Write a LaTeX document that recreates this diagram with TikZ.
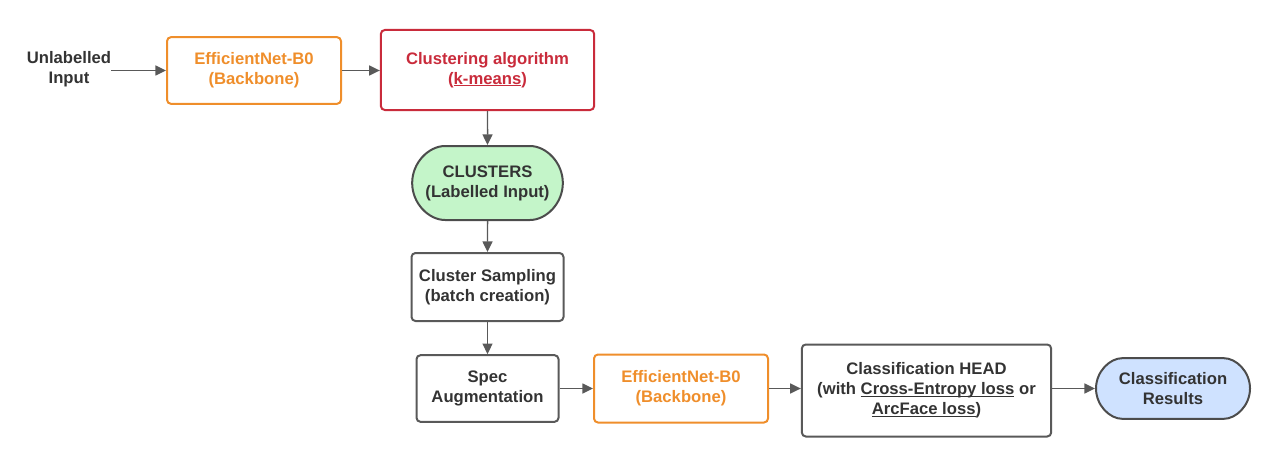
\documentclass[tikz,border=0pt]{standalone}
\usepackage{fontspec}
\setmainfont{Liberation Sans}
\usepackage{xcolor}
\usepackage{tikz}
\usetikzlibrary{arrows.meta}
\usetikzlibrary{shapes.misc}
\colorlet{dgray}{black!65}
\definecolor{borange}{HTML}{EF8E2B}
\definecolor{bred}{HTML}{C92B3B}
\definecolor{lgreen}{HTML}{C4F5C9}
\definecolor{lblue}{HTML}{CFE2FF}
\definecolor{txt}{HTML}{333333}
\newcommand\ulin[1]{\setbox0\hbox{#1}\rlap{\rule[-1.6pt]{\wd0}{0.8pt}}\box0\relax}
\tikzstyle{blk}=[draw=dgray,line width=1.5pt,rounded corners=3pt,align=center,text=txt,font=\bfseries\fontsize{12.5}{15}\selectfont,inner sep=0pt]
\tikzstyle{orbox}=[blk,draw=borange,text=borange]
\tikzstyle{rdbox}=[blk,draw=bred,text=bred]
\tikzstyle{pill}=[blk,rounded rectangle,draw=black!70]
\tikzstyle{flow}=[line width=1.1pt,draw=dgray,-{Triangle[length=8pt,width=7.5pt]}]
\begin{document}
\begin{tikzpicture}[x=0.75pt,y=-0.75pt]
  \useasboundingbox (0,0) rectangle (1280,467);
  \node[align=center,text=txt,font=\bfseries\fontsize{12.5}{15}\selectfont,inner sep=0pt] (inp) at (69,69) {Unlabelled\\Input};
  \node[orbox,minimum width=130.5pt,minimum height=50pt] (eff1) at (254,70.5) {EfficientNet-B0\\(Backbone)};
  \node[rdbox,minimum width=160pt,minimum height=60pt] (clus) at (487.5,70) {Clustering algorithm\\(\ulin{k-means})};
  \node[pill,fill=lgreen,minimum width=113pt,minimum height=55.5pt] (clusters) at (487.5,183) {CLUSTERS\\(Labelled Input)};
  \node[blk,minimum width=114pt,minimum height=51pt] (sampling) at (487.5,287) {Cluster Sampling\\(batch creation)};
  \node[blk,minimum width=106.5pt,minimum height=50pt] (spec) at (487.5,388.5) {Spec\\Augmentation};
  \node[orbox,minimum width=130.5pt,minimum height=51pt] (eff2) at (681,388.5) {EfficientNet-B0\\(Backbone)};
  \node[blk,minimum width=187pt,minimum height=69pt] (head) at (926.5,390.5) {Classification HEAD\\(with \ulin{Cross-Entropy loss} or\\\ulin{ArcFace loss})};
  \node[pill,fill=lblue,minimum width=115.5pt,minimum height=45.5pt] (res) at (1173,388.5) {Classification\\Results};
  \draw[flow] (inp.east |- eff1) -- (eff1);
  \draw[flow] (eff1) -- (clus.west |- eff1);
  \draw[flow] (clus) -- (clusters);
  \draw[flow] (clusters) -- (sampling);
  \draw[flow] (sampling) -- (spec);
  \draw[flow] (spec) -- (eff2);
  \draw[flow] (eff2) -- (head.west |- eff2);
  \draw[flow] (head.east |- res) -- (res);
\end{tikzpicture}
\end{document}
